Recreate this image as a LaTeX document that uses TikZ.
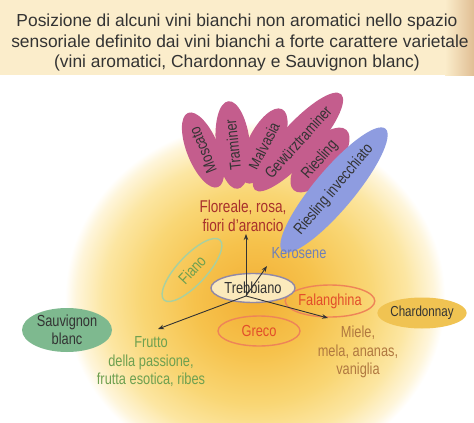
\documentclass[tikz,border=0pt]{standalone}
\usepackage{fontspec}
\setmainfont{Liberation Sans}
\newfontfamily\cond[FakeStretch=0.8]{Liberation Sans}
\usetikzlibrary{shapes.geometric,arrows.meta}
\definecolor{bA}{HTML}{F2AE34}
\definecolor{bB}{HTML}{F6C24C}
\definecolor{bC}{HTML}{F9D674}
\definecolor{bD}{HTML}{FCE6A2}
\definecolor{bE}{HTML}{FEF5DA}
\definecolor{titlebg}{HTML}{FBEDCB}
\definecolor{titleedge}{HTML}{E0BE94}
\definecolor{textdark}{HTML}{333333}
\definecolor{petalc}{HTML}{C45D8D}
\definecolor{bluec}{HTML}{8E9CE0}
\definecolor{florc}{HTML}{A8302C}
\definecolor{keroc}{HTML}{6F80B8}
\definecolor{fianoline}{HTML}{A8D0A0}
\definecolor{greentext}{HTML}{6EA050}
\definecolor{sauvc}{HTML}{7EB98F}
\definecolor{grecoline}{HTML}{EE8458}
\definecolor{redtext}{HTML}{E24E2A}
\definecolor{mielec}{HTML}{B07840}
\definecolor{chardc}{HTML}{F0C352}
\definecolor{trebfill}{HTML}{FDF3D2}
\definecolor{trebline}{HTML}{9088A8}
\pgfdeclareradialshading{blob}{\pgfpoint{0bp}{0bp}}{color(0bp)=(bA); color(8bp)=(bB); color(15bp)=(bC); color(20bp)=(bD); color(23.5bp)=(bE); color(25bp)=(white); color(50bp)=(white)}
\begin{document}
\begin{tikzpicture}[x=1pt,y=-1pt,
  titletext/.style={text=textdark, font=\fontsize{17.4}{20}\selectfont, inner sep=0pt},
  lbl/.style={font=\cond\fontsize{16}{18.5}\selectfont, align=center, inner sep=0pt},
  petal/.style={ellipse, fill=petalc, inner sep=0pt, text=textdark, font=\cond\fontsize{16}{18}\selectfont},
  wine/.style={ellipse, inner sep=0pt, line width=1.4pt, font=\cond\fontsize{16}{18}\selectfont},
  arr/.style={draw=textdark, line width=0.9pt, -{Stealth[length=6pt,width=4.5pt]}}]
\useasboundingbox (0,0) rectangle (474,423);
\fill[white] (0,0) rectangle (474,423);
% yellow blob
\shade[shading=blob] (255,298) ellipse [x radius=190, y radius=176];
% title band
\fill[titlebg] (0,0) rectangle (474,75);
\shade[left color=titlebg, right color=titleedge] (445,0) rectangle (474,75);
\node[titletext, anchor=base] (t1) at (237,27) {Posizione di alcuni vini bianchi non aromatici nello spazio};
\node[titletext, anchor=base] (t2) at (240,47) {sensoriale definito dai vini bianchi a forte carattere varietale};
\node[titletext, anchor=base] (t3) at (237,67) {(vini aromatici, Chardonnay e Sauvignon blanc)};
% petals
\node[petal, minimum width=80pt, minimum height=32pt, rotate=112] (moscato) at (203,150) {Moscato};
\node[petal, minimum width=88pt, minimum height=34pt, rotate=96] (traminer) at (233,145) {Traminer};
\node[petal, minimum width=82pt, minimum height=34pt, rotate=64] (malvasia) at (264,146) {Malvasia};
\node[petal, minimum width=115pt, minimum height=36pt, rotate=48] (gewurz) at (298,142) {Gewürztraminer};
\node[petal, minimum width=80pt, minimum height=36pt, rotate=49] (riesling) at (320,160) {Riesling};
\node[petal, fill=bluec, minimum width=135pt, minimum height=40pt, rotate=50] (rinv) at (334,190) {Riesling invecchiato};
% labels
\node[lbl, text=florc, font=\cond\fontsize{17}{18.5}\selectfont] (flor) at (243,216) {Floreale, rosa,\\fiori d’arancio};
\node[lbl, text=keroc] (kero) at (299,253) {Kerosene};
\node[lbl, text=greentext] (frutto) at (151,362) {Frutto\\della passione,\\frutta esotica, ribes};
\node[lbl, text=mielec] (miele) at (358,352) {Miele,\\mela, ananas,\\vaniglia};
% wines
\node[wine, draw=fianoline, text=greentext, minimum width=82pt, minimum height=29pt, rotate=47] (fiano) at (192,270) {Fiano};
\node[wine, draw=none, fill=sauvc, text=textdark, minimum width=90pt, minimum height=44pt, align=center] (sauv) at (67,330) {Sauvignon\\blanc};
\node[wine, draw=grecoline, text=redtext, minimum width=82pt, minimum height=30pt] (greco) at (259,331) {Greco};
\node[wine, draw=grecoline, text=redtext, minimum width=84pt, minimum height=32pt] (falan) at (330,301) {Falanghina};
\node[wine, draw=none, fill=chardc, text=textdark, minimum width=74pt, minimum height=31pt, font=\cond\fontsize{14.5}{16}\selectfont] (chard) at (422,313) {Chardonnay};
% Trebbiano and axes
\node[wine, draw=trebline, fill=trebfill, fill opacity=0.85, text opacity=1, text=textdark, minimum width=84pt, minimum height=29pt] (treb) at (253,288) {\phantom{Trebbiano}};
\coordinate (O) at (246,296);
\coordinate (tFlor) at (246,234);
\coordinate (tKero) at (267,266);
\coordinate (tFrutto) at (158,329);
\coordinate (tMiele) at (328,318);
\draw[arr] (O) -- (tFlor);
\draw[arr] (O) -- (tKero);
\draw[arr] (O) -- (tFrutto);
\draw[arr] (O) -- (tMiele);
\node[font=\cond\fontsize{16}{18}\selectfont, text=textdark, inner sep=0pt] (trebtext) at (treb.center) {Trebbiano};
\end{tikzpicture}
\end{document}
